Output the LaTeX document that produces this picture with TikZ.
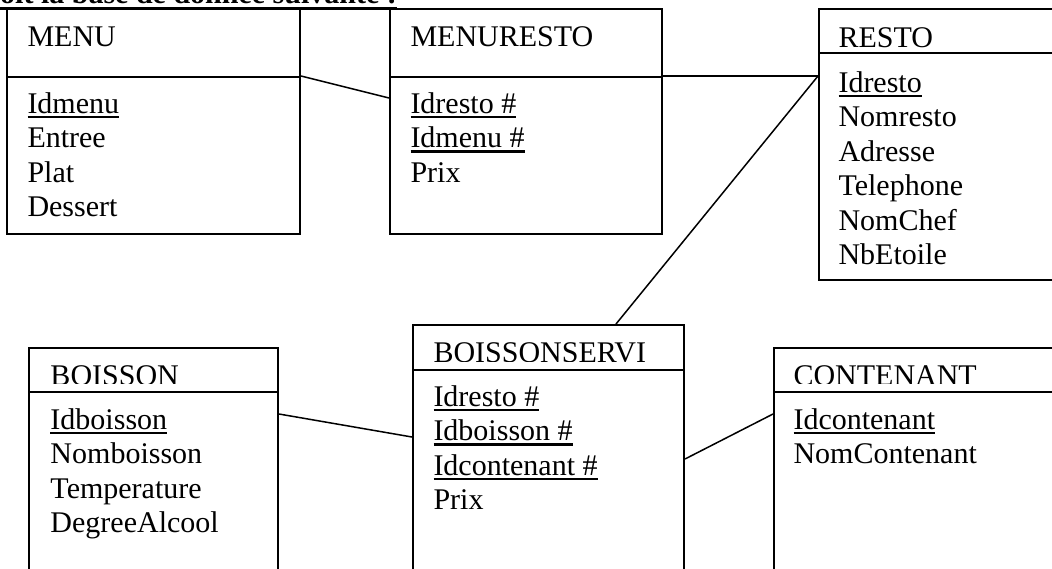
\documentclass[tikz,border=0pt]{standalone}
\usepackage{fontspec}
\setmainfont{Liberation Serif}
\usetikzlibrary{fit,calc}
\newcommand\myul[1]{\setbox0\hbox{#1}\rlap{\rule[-2pt]{\wd0}{0.9pt}}\box0}
\newcommand\mybul[1]{\setbox0\hbox{#1}\rlap{\rule[-2.6pt]{\wd0}{1.1pt}}\box0}
\begin{document}
\begin{tikzpicture}[x=0.4pt,y=-0.4pt,
  box/.style={draw,line width=0.8pt,inner sep=0pt,rectangle},
  sepline/.style={line width=0.8pt},
  link/.style={line width=0.6pt},
  lbl/.style={anchor=base west,inner sep=0pt,font=\fontsize{12}{13.8}\selectfont},
  headline/.style={anchor=base west,inner sep=0pt,font=\fontsize{12}{13.8}\selectfont\bfseries}]
\useasboundingbox (0,0) rectangle (1052,568);
% heading (cut by the top edge)
\node[headline] (head) at (-17,3) {\mybul{Soit la base de donnée suivante :}};
% boxes
\node[box, fit={(7,9) (300,234)}] (menu) {};
\node[box, fit={(390,9) (662,234)}] (menuresto) {};
\node[box, fit={(819,9) (1075,280)}] (resto) {};
\node[box, fit={(413,325) (684,590)}] (boissonservi) {};
\node[box, fit={(29,348) (278,590)}] (boisson) {};
\node[box, fit={(774,348) (1075,590)}] (contenant) {};
% separators
\draw[sepline] (7,77) -- (300,77);
\draw[sepline] (390,77) -- (662,77);
\draw[sepline] (819,53) -- (1075,53);
\draw[sepline] (413,370) -- (684,370);
\draw[sepline] (29,392) -- (278,392);
\draw[sepline] (774,392) -- (1075,392);
% titles
\node[lbl] (tmenu) at (27,46) {MENU};
\node[lbl] (tmenuresto) at (410,46) {MENURESTO};
\node[lbl] (tresto) at (838,47) {RESTO};
\begin{scope}
\clip (413,325) rectangle (684,361);
\node[lbl] (tboissonservi) at (433,362.5) {BOISSONSERVI};
\end{scope}
\begin{scope}
\clip (29,348) rectangle (278,383);
\node[lbl] (tboisson) at (50,385) {BOISSON};
\end{scope}
\begin{scope}
\clip (774,348) rectangle (1075,383);
\node[lbl] (tcontenant) at (793,385) {CONTENANT};
\end{scope}
% MENU
\node[lbl] (m1) at (27,113) {\myul{Idmenu}};
\node[lbl] (m2) at (27,147.5) {Entree};
\node[lbl] (m3) at (27,182) {Plat};
\node[lbl] (m4) at (27,216.5) {Dessert};
% MENURESTO
\node[lbl] (mr1) at (410,113) {\myul{Idresto \#}};
\node[lbl] (mr2) at (410,147.5) {\myul{Idmenu \#}};
\node[lbl] (mr3) at (410,182) {Prix};
% RESTO
\node[lbl] (r1) at (838,92) {\myul{Idresto}};
\node[lbl] (r2) at (838,126.5) {Nomresto};
\node[lbl] (r3) at (838,161) {Adresse};
\node[lbl] (r4) at (838,195.5) {Telephone};
\node[lbl] (r5) at (838,230) {NomChef};
\node[lbl] (r6) at (838,264.5) {NbEtoile};
% BOISSONSERVI
\node[lbl] (bs1) at (433,406) {\myul{Idresto \#}};
\node[lbl] (bs2) at (433,440.5) {\myul{Idboisson \#}};
\node[lbl] (bs3) at (433,475) {\myul{Idcontenant \#}};
\node[lbl] (bs4) at (433,509.5) {Prix};
% BOISSON
\node[lbl] (b1) at (50,429) {\myul{Idboisson}};
\node[lbl] (b2) at (50,463.5) {Nomboisson};
\node[lbl] (b3) at (50,498) {Temperature};
\node[lbl] (b4) at (50,532.5) {DegreeAlcool};
% CONTENANT
\node[lbl] (c1) at (793,429) {\myul{Idcontenant}};
\node[lbl] (c2) at (793,463.5) {NomContenant};
% connectors
\draw[link] ($(menu.north east)+(0,68)$) -- ($(menuresto.north west)+(0,90)$);
\draw[link] ($(menuresto.north east)+(0,68)$) -- ($(resto.north west)+(0,68)$);
\draw[link] ($(resto.north west)+(0,68)$) -- ($(boissonservi.north west)+(204,0)$);
\draw[link] ($(boisson.north east)+(0,67)$) -- ($(boissonservi.north west)+(0,113)$);
\draw[link] ($(boissonservi.north east)+(0,135)$) -- ($(contenant.north west)+(0,67)$);
\end{tikzpicture}
\end{document}
